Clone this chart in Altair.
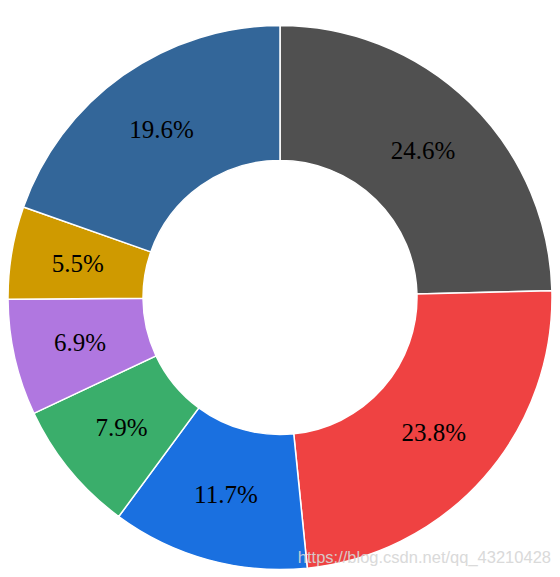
import altair as alt
import pandas as pd

categories = ["A", "B", "C", "D", "E", "F", "G"]
values = [24.6, 23.8, 11.7, 7.9, 6.9, 5.5, 19.6]
colors = ["#505050", "#ef4242", "#1a70e0", "#3aae6b", "#b077e0", "#cf9a00", "#336699"]
watermark = "https://blog.csdn.net/qq_43210428"

df = pd.DataFrame({
    "cat": categories,
    "value": values,
    "idx": list(range(len(values))),
    "label": [f"{v:.1f}%" for v in values],
})

CX, CY = 272, 289.5

base = alt.Chart(df).encode(
    theta=alt.Theta("value:Q", stack=True),
    order=alt.Order("idx:Q", sort="ascending"),
)

arcs = base.mark_arc(outerRadius=272, innerRadius=137, stroke="white", strokeWidth=1.5).encode(
    color=alt.Color("cat:N", scale=alt.Scale(domain=categories, range=colors), legend=None),
    x=alt.value(CX),
    y=alt.value(CY),
)

labels = base.mark_text(
    radius=205, font="Liberation Serif", fontSize=25, color="black",
    align="center", baseline="middle",
).encode(
    text="label:N",
    x=alt.value(CX),
    y=alt.value(CY),
)

wm = alt.Chart(pd.DataFrame({"t": [watermark]})).mark_text(
    font="Liberation Sans", fontSize=16.5, color="#d6d6d6", opacity=0.9,
    align="right", baseline="alphabetic",
).encode(
    text="t:N",
    x=alt.value(543),
    y=alt.value(555),
)

chart = alt.layer(arcs, labels, wm).properties(
    width=544, height=561,
    autosize=alt.AutoSizeParams(type="none"),
    padding=0,
).configure_view(stroke=None)

chart.save("out.html", embed_options={"renderer": "svg", "actions": False})
